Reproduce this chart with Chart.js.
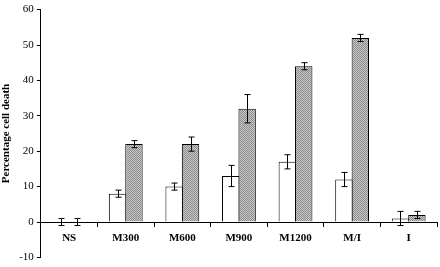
<!DOCTYPE html>
<html>
<head>
<meta charset="utf-8">
<script src="https://cdn.jsdelivr.net/npm/chart.js@4"></script>
<style>
  body { margin: 0; background: #fff; }
  #wrap { width: 440px; height: 267px; }
</style>
</head>
<body>
<div id="wrap"><canvas id="ChartCellDeath"></canvas></div>
<script>
var categories = ['NS', 'M300', 'M600', 'M900', 'M1200', 'M/I', 'I'];
var openValues = [0, 8, 10, 13, 17, 12, 1];
var openErrors = [1, 1, 1, 3, 2, 2, 2];
var hatchValues = [0, 22, 22, 32, 44, 52, 2];
var hatchErrors = [1, 1, 2, 4, 1, 1, 1];
var yTicks = [-10, 0, 10, 20, 30, 40, 50, 60];

// small checker pattern for the shaded bars
function makeHatch() {
    var c = document.createElement('canvas');
    c.width = 2; c.height = 2;
    var x = c.getContext('2d');
    x.fillStyle = '#c8c8c8';
    x.fillRect(0, 0, 2, 2);
    x.fillStyle = '#8c8c8c';
    x.fillRect(0, 0, 1, 1);
    x.fillRect(1, 1, 1, 1);
    return x.createPattern(c, 'repeat');
}

var errorBars = {
    id: 'errorBars',
    afterDatasetsDraw: function (chart) {
        var ctx = chart.ctx;
        var yScale = chart.scales.y;
        ctx.save();
        ctx.strokeStyle = '#000';
        ctx.lineWidth = 1;
        chart.data.datasets.forEach(function (ds, i) {
            var meta = chart.getDatasetMeta(i);
            meta.data.forEach(function (bar, j) {
                var v = ds.data[j], e = ds.errors[j];
                var x = Math.round(bar.x) + 0.5;
                var top = yScale.getPixelForValue(v + e);
                var bot = yScale.getPixelForValue(v - e);
                ctx.beginPath();
                ctx.moveTo(x, top); ctx.lineTo(x, bot);
                ctx.moveTo(x - 3, top); ctx.lineTo(x + 3, top);
                ctx.moveTo(x - 3, bot); ctx.lineTo(x + 3, bot);
                ctx.stroke();
            });
        });
        ctx.restore();
    }
};

var ctx = document.getElementById('ChartCellDeath').getContext('2d');

var graph = new Chart(ctx, {
    type: 'bar',
    data: {
        labels: categories,
        datasets: [
            {
                label: 'open',
                data: openValues,
                errors: openErrors,
                backgroundColor: '#ffffff',
                borderColor: '#000',
                borderWidth: 1
            },
            {
                label: 'shaded',
                data: hatchValues,
                errors: hatchErrors,
                backgroundColor: makeHatch(),
                borderColor: '#000',
                borderWidth: 1
            }
        ]
    },
    options: {
        responsive: true,
        maintainAspectRatio: false,
        animation: false,
        layout: { padding: { top: 4, right: 3, bottom: 2, left: 0 } },
        categoryPercentage: 0.58,
        barPercentage: 1.06,
        plugins: {
            legend: { display: false },
            tooltip: { enabled: false }
        },
        scales: {
            x: {
                position: { y: 0 },
                grid: { offset: true, drawOnChartArea: false, tickLength: 4, color: '#000' },
                border: { color: '#000', width: 1 },
                ticks: {
                    color: '#000',
                    padding: 6,
                    font: { family: 'Liberation Serif', size: 11, weight: 'bold' }
                }
            },
            y: {
                min: -10,
                max: 60,
                afterBuildTicks: function (axis) {
                    axis.ticks = yTicks.map(function (v) { return { value: v }; });
                },
                grid: { drawOnChartArea: false, tickLength: 4, color: '#000' },
                border: { color: '#000', width: 1 },
                ticks: {
                    color: '#000',
                    padding: 3,
                    font: { family: 'Liberation Serif', size: 11 }
                },
                title: {
                    display: true,
                    text: 'Percentage cell death',
                    color: '#000',
                    padding: { top: 0, bottom: 3 },
                    font: { family: 'Liberation Serif', size: 11, weight: 'bold' }
                }
            }
        }
    },
    plugins: [errorBars]
});
</script>
</body>
</html>
